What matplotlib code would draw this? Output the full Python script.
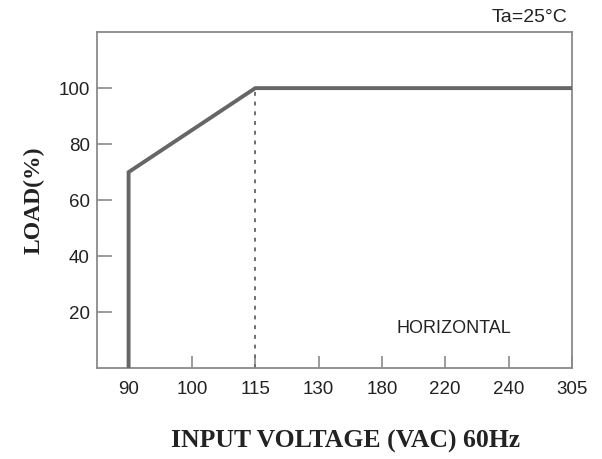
import numpy as np
import matplotlib.pyplot as plt

# 输入电压刻度（类别轴，等间距）
voltage_labels = ['90', '100', '115', '130', '180', '220', '240', '305']
# 降额曲线：按刻度序号给出的折点
curve_x_idx = [0, 0, 2, 7]
curve_load = [0, 70, 100, 100]
# 115V 处的虚线
dash_x_idx = [2, 2]
dash_load = [0, 100]
load_ticks = [20, 40, 60, 80, 100]

fig = plt.figure(figsize=(6.02, 4.59), dpi=100)
ax = fig.add_axes([0.161, 0.198, 0.789, 0.732])

ax.plot(curve_x_idx, curve_load, color='#666666', linewidth=2.8,
        solid_joinstyle='miter', zorder=3)
ax.plot(dash_x_idx, dash_load, color='#6e6e6e', linewidth=1.4,
        linestyle=(0, (2, 3)), zorder=2)

ax.set_xlim(-0.5, 7)
ax.set_ylim(0, 120)
ax.set_xticks(np.arange(len(voltage_labels)))
ax.set_xticklabels(voltage_labels)
ax.set_yticks(load_ticks)

for s in ax.spines.values():
    s.set_color('#8a8a8a')
    s.set_linewidth(1.3)

ax.tick_params(axis='both', direction='in', color='#8a8a8a', width=1.2,
               labelsize=13.5, labelcolor='#222222')
ax.tick_params(axis='y', length=11, pad=5)
ax.tick_params(axis='x', length=9, pad=9)
for lab in ax.get_xticklabels() + ax.get_yticklabels():
    lab.set_family('Liberation Sans')

ax.set_xlabel('INPUT VOLTAGE (VAC) 60Hz', family='Liberation Serif',
              fontweight='bold', fontsize=18.5, labelpad=23, color='#222222')
ax.xaxis.label.set_x(0.523)  # 原图标题略偏右
ax.set_ylabel('LOAD(%)', family='Liberation Serif', fontweight='bold',
              fontsize=17, labelpad=10, color='#222222')

ax.text(5.14, 14, 'HORIZONTAL', family='Liberation Sans', fontsize=13,
        color='#222222', ha='center', va='center')
fig.text(0.88, 0.962, 'Ta=25°C', family='Liberation Sans', fontsize=14,
         color='#222222', ha='center', va='center')

fig.savefig('out.png', dpi=100)
